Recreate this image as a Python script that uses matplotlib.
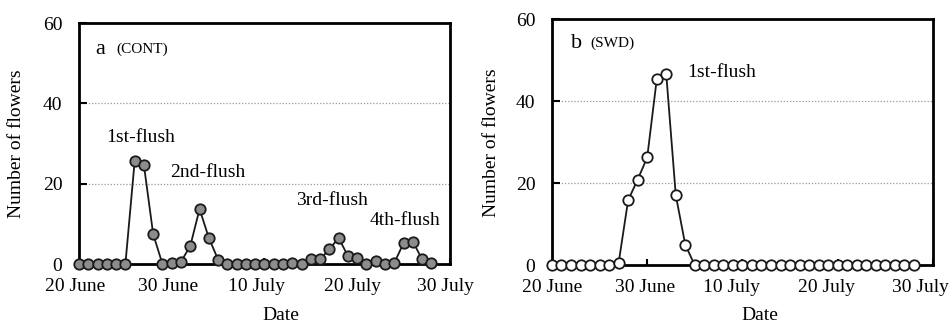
import matplotlib
matplotlib.use("Agg")
import matplotlib.pyplot as plt
import matplotlib.transforms as mtransforms
import numpy as np

plt.rcParams['font.family'] = ['Liberation Serif', 'DejaVu Serif']

# Days since 20 June (daily observations)
days = list(range(39))
cont_values = [0, 0, 0, 0, 0, 0, 25.6, 24.6, 7.4, 0, 0.2, 0.6, 4.5, 13.7, 6.5, 1.1,
               0, 0, 0, 0, 0, 0, 0, 0.3, 0, 1.2, 1.2, 3.7, 6.5, 2.0, 1.6, 0, 0.7, 0,
               0.3, 5.2, 5.6, 1.2, 0.3]
swd_values = [0, 0, 0, 0, 0, 0, 0, 0.6, 15.9, 20.9, 26.3, 45.3, 46.6, 17.1, 5.0,
              0, 0, 0, 0, 0, 0, 0, 0, 0, 0, 0, 0, 0, 0.2, 0, 0, 0, 0, 0, 0, 0, 0, 0, 0]
xtick_pos = [0, 10, 20, 30, 40]
xtick_labels = ['20 June', '30 June', '10 July', '20 July', '30 July']
ytick_pos = [0, 20, 40, 60]

cont_flush_labels = ['1st-flush', '2nd-flush', '3rd-flush', '4th-flush']
cont_flush_xy = [(6.6, 31.5), (13.9, 22.8), (27.3, 15.8), (35.2, 10.8)]
swd_flush_labels = ['1st-flush']
swd_flush_xy = [(14.2, 47)]

fig = plt.figure(figsize=(9.51, 3.24), dpi=100)
ax_a = fig.add_axes([0.0831, 0.185, 0.390, 0.744])
ax_b = fig.add_axes([0.5804, 0.181, 0.4006, 0.760])

FS = 14

def style(ax, values, face, label_shifts):
    ax.set_xlim(0, 40)
    ax.set_ylim(0, 60)
    for y in [20, 40]:
        ax.axhline(y, color='#9a9a9a', linestyle=(0, (1, 1.5)), linewidth=0.9, zorder=1)
    ax.plot(days, values, color='#1a1a1a', linewidth=1.3, marker='o', markersize=7.5,
            markerfacecolor=face, markeredgecolor='#1a1a1a', markeredgewidth=1.3,
            clip_on=False, zorder=5)
    for s in ax.spines.values():
        s.set_linewidth(2.0)
        s.set_zorder(3)
    ax.set_xticks(xtick_pos)
    ax.set_xticklabels(xtick_labels)
    ax.set_yticks(ytick_pos)
    ax.tick_params(axis='x', direction='in', length=4, width=1.5, pad=10, labelsize=FS)
    ax.tick_params(axis='y', direction='in', length=6, width=1.5, pad=12, labelsize=FS)
    for lbl, dx in zip(ax.get_xticklabels(), label_shifts):
        lbl.set_transform(lbl.get_transform() +
                          mtransforms.ScaledTranslation(dx / 100, 0, fig.dpi_scale_trans))
    ax.set_ylabel('Number of flowers', fontsize=FS)
    ax.set_xlabel('Date', fontsize=FS, va='center')

style(ax_a, cont_values, '#8c8c8c', [-4, -4, -8, -5, -4])
style(ax_b, swd_values, 'white', [0, -2, -11, -11, -12])
ax_a.yaxis.set_label_coords(-0.146, 0.5)
ax_b.yaxis.set_label_coords(-0.137, 0.5)
ax_a.xaxis.set_label_coords(0.545, -0.214)
ax_b.xaxis.set_label_coords(0.545, -0.202)

ax_a.text(0.045, 0.89, 'a', transform=ax_a.transAxes, fontsize=16, va='center', ha='left')
ax_a.text(0.10, 0.89, '(CONT)', transform=ax_a.transAxes, fontsize=11, va='center', ha='left')
ax_b.text(0.05, 0.90, 'b', transform=ax_b.transAxes, fontsize=16, va='center', ha='left')
ax_b.text(0.10, 0.90, '(SWD)', transform=ax_b.transAxes, fontsize=11, va='center', ha='left')

for lab, (x, y) in zip(cont_flush_labels, cont_flush_xy):
    ax_a.text(x, y, lab, fontsize=FS, ha='center', va='center')
for lab, (x, y) in zip(swd_flush_labels, swd_flush_xy):
    ax_b.text(x, y, lab, fontsize=FS, ha='left', va='center')

fig.savefig('out.png', dpi=100)
